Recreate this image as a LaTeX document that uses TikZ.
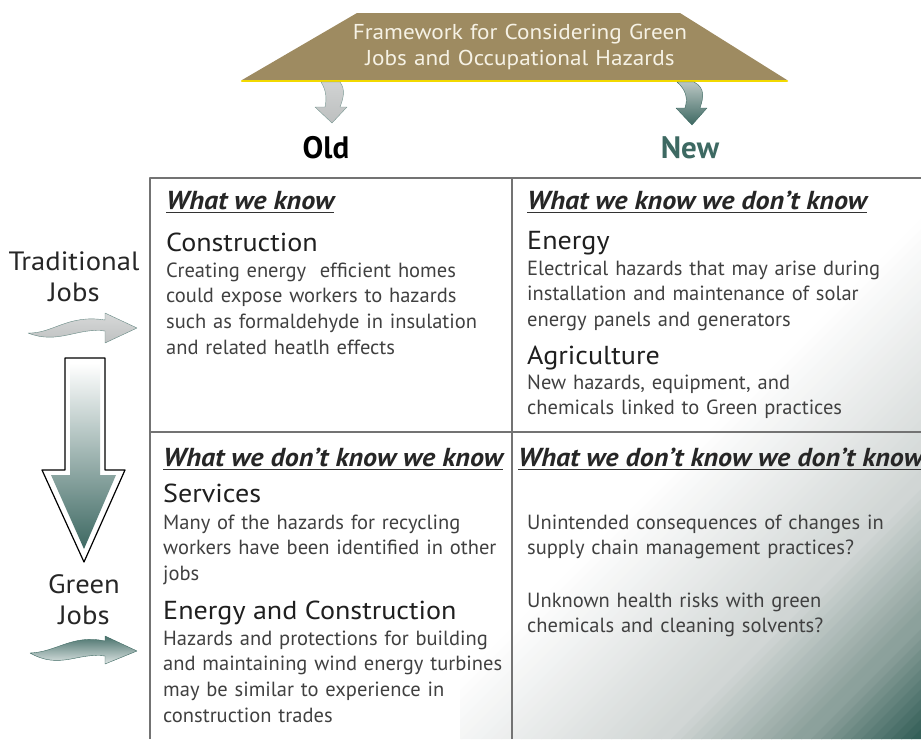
\documentclass[tikz,border=0pt]{standalone}
\usepackage{fontspec}
\setmainfont{PT Sans}
\newfontfamily\widefont[FakeStretch=1.08]{PT Sans}
\usetikzlibrary{arrows}
\definecolor{bbaauu}{rgb}{0.62,0.545,0.38}
\definecolor{ffeeqq}{rgb}{0.95,0.85,0.}
\definecolor{ffffee}{rgb}{0.965,0.95,0.9}
\definecolor{wwzzzz}{rgb}{0.24,0.41,0.385}
\definecolor{ttzzww}{rgb}{0.17,0.35,0.32}
\definecolor{uuuuuu}{rgb}{0.45,0.45,0.45}
\definecolor{zzzzzz}{rgb}{0.25,0.25,0.25}
\definecolor{ccddcc}{rgb}{0.82,0.84,0.835}
\definecolor{sssstt}{rgb}{0.55,0.63,0.61}
\definecolor{ccccbb}{rgb}{0.74,0.75,0.75}
\tikzset{
  cellhead/.style={font=\widefont\fontsize{26}{30}\selectfont\bfseries\itshape,text=black!85,anchor=base west,inner sep=0pt},
  topic/.style={font=\widefont\fontsize{26}{30}\selectfont,text=black!88,anchor=base west,inner sep=0pt},
  body/.style={font=\fontsize{20.5}{25.8}\selectfont,text=zzzzzz,anchor=base west,inner sep=0pt,text width=400pt,align=left},
  sidelabel/.style={font=\widefont\fontsize{26.5}{31}\selectfont,text=black!85,anchor=base,inner sep=0pt,text width=150pt,align=center},
  colhead/.style={font=\fontsize{31}{34}\selectfont\bfseries,anchor=base,inner sep=0pt},
  titletext/.style={font=\widefont\fontsize{21.5}{26}\selectfont,text=ffffee,anchor=base,inner sep=0pt,text width=420pt,align=center},
  gridline/.style={uuuuuu,line width=2pt}
}
\begin{document}
\begin{tikzpicture}[line cap=round,line join=round,x=1pt,y=-1pt]
\useasboundingbox (0,0) rectangle (921,739);
% shaded corner
\begin{scope}
\clip (512,178) rectangle (921,739) (460,470) rectangle (512,739);
\foreach \k in {0,...,26}{
  \pgfmathtruncatemacro\m{100*\k/26}
  \fill[ccddcc!\m!white] ({1130+10*\k-178},178) -- ({1141+10*\k-178},178) -- ({1141+10*\k-739},739) -- ({1130+10*\k-739},739) -- cycle;
}
\foreach \k in {0,...,13}{
  \pgfmathtruncatemacro\m{100*\k/13}
  \fill[sssstt!\m!ccddcc] ({1400+10*\k-178},178) -- ({1411+10*\k-178},178) -- ({1411+10*\k-739},739) -- ({1400+10*\k-739},739) -- cycle;
}
\foreach \k in {0,...,12}{
  \pgfmathtruncatemacro\m{100*\k/12}
  \fill[ttzzww!\m!sssstt] ({1540+10*\k-178},178) -- ({1551+10*\k-178},178) -- ({1551+10*\k-739},739) -- ({1540+10*\k-739},739) -- cycle;
}
\end{scope}
% grid
\draw[gridline,line cap=butt] (150,739) -- (150,178) -- (921,178);
\draw[gridline,line cap=butt] (512,178) -- (512,739);
\draw[gridline,line cap=butt] (150,432) -- (921,432);
% banner
\fill[bbaauu] (357,13) -- (680,13) -- (787,80) -- (242,80) -- cycle;
\draw[ffeeqq,line width=2.5pt] (242,81) -- (787,81);
\node[titletext] (title) at (520,39) {Framework for Considering Green\\Jobs and Occupational Hazards};
% small arrows
\shade[top color=ccccbb!70!white,bottom color=ccccbb,draw=wwzzzz!70] (321,82) -- (340,82) .. controls (346,90) and (343,99) .. (340,107) -- (347,107) -- (332,123) -- (315,107) -- (325,107) .. controls (327,98) and (326,90) .. cycle;
\shade[top color=sssstt!60!white,bottom color=wwzzzz,draw=wwzzzz] (677,82) -- (694,82) .. controls (706,88) and (703,99) .. (700,108) -- (707,108) -- (692,125) -- (676,108) -- (685,108) .. controls (688,98) and (686,90) .. cycle;
\node[colhead] (old) at (326,158) {Old};
\node[colhead,text=wwzzzz] (new) at (690,158) {New};
% side arrows
\shade[top color=ccccbb!60!white,bottom color=ccccbb,draw=wwzzzz!80] (28,333) .. controls (52,334) and (68,314) .. (105,320) -- (105,313) -- (137,328) -- (105,343) -- (105,331) .. controls (78,327) and (58,345) .. cycle;
\draw[black,line width=1.2pt,fill=white] (65,358) -- (105,358) -- (105,470) -- (125,470) -- (84,562) -- (42,470) -- (65,470) -- cycle;
\shade[top color=white,middle color=sssstt!70!white,bottom color=wwzzzz] (70,363) -- (100,363) -- (100,475) -- (116,475) -- (84,549) -- (51,475) -- (70,475) -- cycle;
\shade[top color=wwzzzz,bottom color=white,draw=wwzzzz] (30,653) .. controls (57,652) and (72,634) .. (105,641) -- (105,636) -- (137,651) -- (105,664) -- (105,656) .. controls (78,652) and (60,670) .. cycle;
\node[sidelabel] (trad) at (74,270) {Traditional\\Jobs};
\node[sidelabel] (green) at (84,593) {Green\\Jobs};
% what we know
\node[cellhead] (knowhd) at (166,209) {What we know};
\draw[line width=1.5pt,line cap=butt,black!80] ([yshift=-3pt]knowhd.south west) -- ([yshift=-3pt]knowhd.south east);
\node[topic] (constr) at (166,251) {Construction};
\node[body] (constrtxt) at (166,277) {Creating energy\ \ efficient homes\\could expose workers to hazards\\such as formaldehyde in insulation\\and related heatlh effects};
% what we know we don't know
\node[cellhead] (knowdonthd) at (527,209) {What we know we don’t know};
\draw[line width=1.5pt,line cap=butt,black!80] ([yshift=-3pt]knowdonthd.south west) -- ([yshift=-3pt]knowdonthd.south east);
\node[topic] (energy) at (527,249) {Energy};
\node[body] (energytxt) at (527,275) {Electrical hazards that may arise during\\installation and maintenance of solar\\energy panels and generators};
\node[topic] (agri) at (527,364) {Agriculture};
\node[body] (agritxt) at (527,389) {New hazards, equipment, and\\chemicals linked to Green practices};
% what we don't know we know
\node[cellhead] (dontknowhd) at (163,466) {What we don’t know we know};
\draw[line width=1.5pt,line cap=butt,black!80] ([yshift=-3pt]dontknowhd.south west) -- ([yshift=-3pt]dontknowhd.south east);
\node[topic] (services) at (163,502) {Services};
\node[body] (servicestxt) at (163,529) {Many of the hazards for recycling\\workers have been identified in other\\jobs};
\node[topic] (encon) at (163,619) {Energy and Construction};
\node[body] (encontxt) at (163,645) {Hazards and protections for building\\and maintaining wind energy turbines\\may be similar to experience in\\construction trades};
% what we don't know we don't know
\node[cellhead] (dontdonthd) at (518,466) {What we don’t know we don’t know};
\draw[line width=1.5pt,line cap=butt,black!80] ([yshift=-3pt]dontdonthd.south west) -- ([yshift=-3pt]dontdonthd.south east);
\node[body] (supplytxt) at (527,529) {Unintended consequences of changes in\\supply chain management practices?};
\node[body] (healthtxt) at (527,607) {Unknown health risks with green\\chemicals and cleaning solvents?};
\end{tikzpicture}
\end{document}
